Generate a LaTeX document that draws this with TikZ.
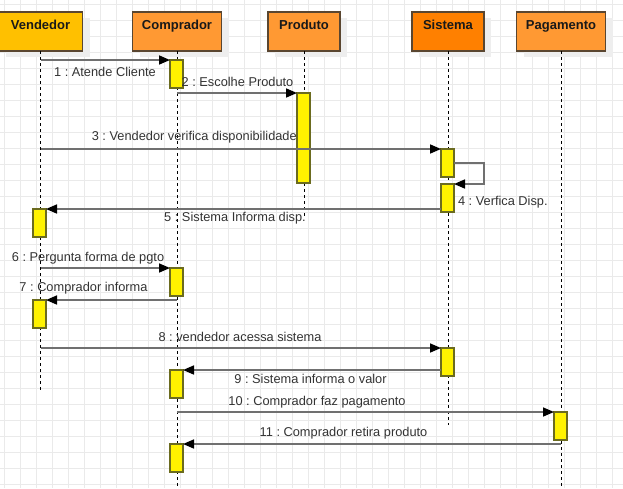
\documentclass[tikz,border=0pt]{standalone}
\usepackage{fontspec}
\setmainfont{Liberation Sans}
\usetikzlibrary{arrows.meta,shadows}
\frenchspacing
\definecolor{gridgray}{HTML}{EAEAEA}
\definecolor{shadowgray}{HTML}{EEEEEE}
\definecolor{boxedge}{HTML}{5A4630}
\definecolor{actedge}{HTML}{6B6B1F}
\definecolor{msggray}{HTML}{707070}
\definecolor{labelgray}{HTML}{333333}
\definecolor{amber}{HTML}{FFC000}
\definecolor{orangelt}{HTML}{FF9933}
\definecolor{orangedk}{HTML}{FF8000}

\begin{document}
\begin{tikzpicture}[x=1pt,y=-1pt,inner sep=0pt,outer sep=0pt,
gridline/.style={draw=gridgray,line width=1pt},
actor/.style={draw=boxedge,line width=1.2pt,rectangle,minimum height=39pt,text height=10pt,text depth=13.6pt,
  font=\fontsize{13}{15}\selectfont\bfseries,text=black!90,
  general shadow={fill=shadowgray,shadow xshift=7pt,shadow yshift=-6pt}},
lifeline/.style={draw=black,line width=1pt,dash pattern=on 3pt off 3pt},
act/.style={draw=actedge,fill=yellow,line width=1.2pt,rectangle,minimum width=13pt,minimum height=28pt},
msg/.style={draw=msggray,line width=1.6pt,-{Triangle[length=11pt,width=9pt,color=black]}},
msglbl/.style={text=labelgray,font=\fontsize{12.8}{15}\selectfont,text height=9.3pt,text depth=0pt}]

\useasboundingbox (0,0) rectangle (623,488);
\fill[white] (0,0) rectangle (623,488);

% grid
\foreach \gx in {4,20,...,620} \draw[gridline] (\gx,0) -- (\gx,488);
\foreach \gy in {4,20,...,484} \draw[gridline] (0,\gy) -- (623,\gy);

% actors
\node[actor,fill=amber,minimum width=84pt] (ven) at (40.5,31.5) {Vendedor};
\node[actor,fill=orangelt,minimum width=89pt] (com) at (177,31.5) {Comprador};
\node[actor,fill=orangelt,minimum width=72pt] (pro) at (304,31.5) {Produto};
\node[actor,fill=orangedk,minimum width=72pt] (sis) at (448,31.5) {Sistema};
\node[actor,fill=orangelt,minimum width=89pt] (pag) at (561,31.5) {Pagamento};

% lifelines
\coordinate (ven end) at (40.5,390);
\coordinate (com end) at (177,488);
\coordinate (pro end) at (304,216);
\coordinate (sis end) at (448,425);
\coordinate (pag end) at (561,488);
\draw[lifeline] (ven.south) -- (ven end);
\draw[lifeline] (com.south) -- (com end);
\draw[lifeline] (pro.south) -- (pro end);
\draw[lifeline] (sis.south) -- (sis end);
\draw[lifeline] (pag.south) -- (pag end);

% activations
\node[act] (c1) at (176.5,74) {};
\node[act,minimum height=90pt] (p1) at (303.5,138) {};
\node[act] (s1) at (447.5,163) {};
\node[act] (s2) at (447.5,198) {};
\node[act] (v1) at (39.5,223) {};
\node[act] (c2) at (176.5,282) {};
\node[act] (v2) at (39.5,314) {};
\node[act] (s3) at (447.5,362) {};
\node[act] (c3) at (176.5,384) {};
\node[act] (g1) at (560.5,426) {};
\node[act] (c4) at (176.5,458) {};

% messages
\draw[msg] (ven.south |- c1.north) -- (c1.north west);
\draw[msg] (com.south |- p1.north) -- (p1.north west);
\draw[msg] (ven.south |- s1.north) -- (s1.north west);
\draw[msg] (s1.east) -- ++(30,0) |- (s2.north east);
\draw[msg] (s2.west |- v1.north) -- (v1.north east);
\draw[msg] (ven.south |- c2.north) -- (c2.north west);
\draw[msg] (com.south |- v2.north) -- (v2.north east);
\draw[msg] (ven.south |- s3.north) -- (s3.north west);
\draw[msg] (s3.west |- c3.north) -- (c3.north east);
\draw[msg] (com.south |- g1.north) -- (g1.north west);
\draw[msg] (pag.south |- c4.north) -- (c4.north east);

% message labels
\node[msglbl] (l1) at (105,72.3) {1 : Atende Cliente};
\node[msglbl] (l2) at (237.5,82.3) {2 : Escolhe Produto};
\node[msglbl] (l3) at (194.3,136) {3 : Vendedor verifica disponibilidade};
\node[msglbl,anchor=west] (l4) at (458,201) {4 : Verfica Disp.};
\node[msglbl] (l5) at (235,216.7) {5 : Sistema Informa disp.};
\node[msglbl] (l6) at (88,256.7) {6 : Pergunta forma de pgto};
\node[msglbl] (l7) at (83.5,286.7) {7 : Comprador informa};
\node[msglbl] (l8) at (240,337) {8 : vendedor acessa sistema};
\node[msglbl] (l9) at (310.5,379.3) {9 : Sistema informa o valor};
\node[msglbl] (l10) at (317,400.7) {10 : Comprador faz pagamento};
\node[msglbl] (l11) at (343.5,432.3) {11 : Comprador retira produto};
\end{tikzpicture}
\end{document}
